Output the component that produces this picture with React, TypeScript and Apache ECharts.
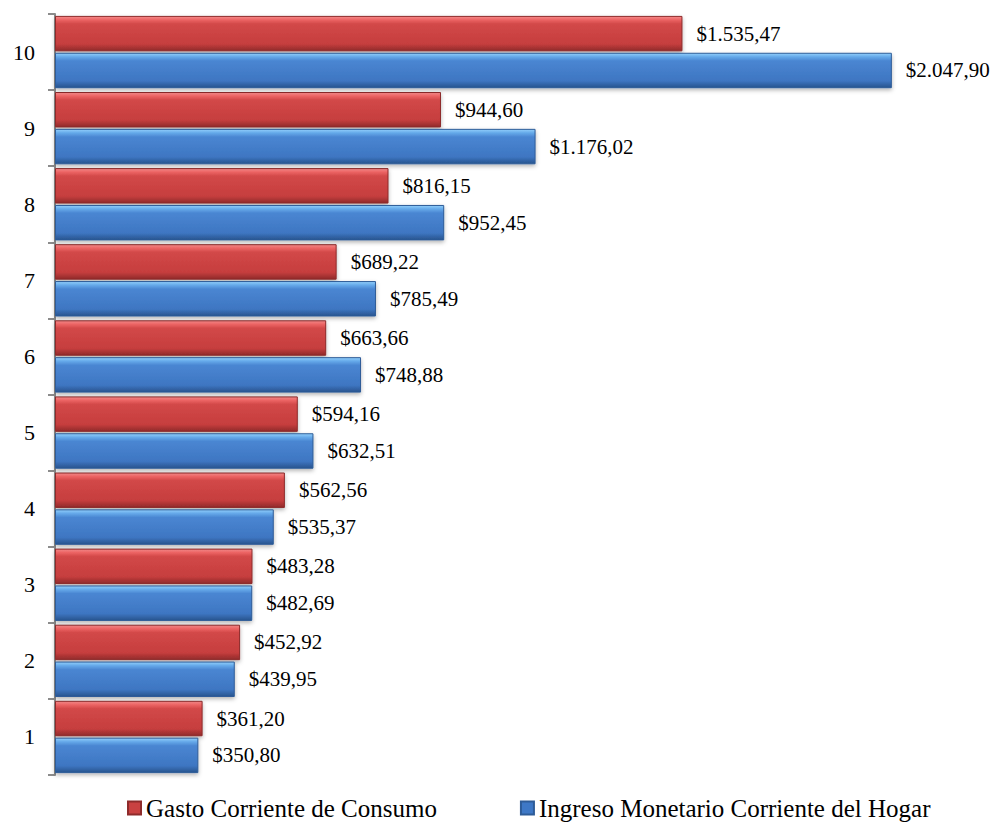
import React, { useEffect, useRef } from "react";
import * as echarts from "echarts";

const categories = ["1", "2", "3", "4", "5", "6", "7", "8", "9", "10"];
const gasto = [361.2, 452.92, 483.28, 562.56, 594.16, 663.66, 689.22, 816.15, 944.6, 1535.47];
const ingreso = [350.8, 439.95, 482.69, 535.37, 632.51, 748.88, 785.49, 952.45, 1176.02, 2047.9];
const seriesNames = ["Gasto Corriente de Consumo", "Ingreso Monetario Corriente del Hogar"];

const FONT = "Liberation Serif, serif";

function fmt(v: number): string {
  const [i, d] = v.toFixed(2).split(".");
  const withSep = i.replace(/\B(?=(\d{3})+(?!\d))/g, ".");
  return "$" + withSep + "," + d;
}

const redGrad = () =>
  new echarts.graphic.LinearGradient(0, 0, 0, 1, [
    { offset: 0, color: "#F58A8A" },
    { offset: 0.1, color: "#EC6464" },
    { offset: 0.22, color: "#D24848" },
    { offset: 0.8, color: "#C63E3E" },
    { offset: 1, color: "#902A2A" },
  ]);
const blueGrad = () =>
  new echarts.graphic.LinearGradient(0, 0, 0, 1, [
    { offset: 0, color: "#92CFFB" },
    { offset: 0.1, color: "#66AAEA" },
    { offset: 0.22, color: "#4A86D2" },
    { offset: 0.8, color: "#3E76C2" },
    { offset: 1, color: "#28548E" },
  ]);

export default function App() {
  const ref = useRef<HTMLDivElement>(null);
  useEffect(() => {
    if (!ref.current) return;
    const chart = echarts.init(ref.current, undefined, { renderer: "svg" });
    const labelCommon = {
      show: true,
      position: "right" as const,
      distance: 14,
      fontFamily: FONT,
      fontSize: 21,
      color: "#000",
      formatter: (p: any) => fmt(p.value),
    };
    chart.setOption({
      animation: false,
      backgroundColor: "#fff",
      grid: { left: 55, top: 14, width: 899, height: 761 },
      xAxis: {
        type: "value",
        min: 0,
        max: 2200,
        show: false,
      },
      yAxis: {
        type: "category",
        data: categories,
        axisLine: { show: true, lineStyle: { color: "#8C8C8C", width: 2 } },
        axisTick: { show: true, length: 7, lineStyle: { color: "#8C8C8C", width: 2 } },
        axisLabel: { fontFamily: FONT, fontSize: 22, color: "#000", margin: 20 },
        splitLine: { show: false },
      },
      legend: {
        left: 127,
        top: 795,
        padding: 0,
        itemWidth: 13,
        itemHeight: 13,
        itemGap: 83,
        icon: "rect",
        textStyle: { fontFamily: FONT, fontSize: 25, lineHeight: 26, color: "#000", padding: [0, 0, 0, 0] },
        data: [
          { name: seriesNames[0], itemStyle: { color: "#C94141" } },
          { name: seriesNames[1], itemStyle: { color: "#3E78C6" } },
        ],
      },
      series: [
        {
          name: seriesNames[0],
          type: "bar",
          data: gasto,
          barGap: "4%",
          barCategoryGap: "5%",
          itemStyle: {
            color: redGrad(),
            borderColor: "#8E2B2B",
            borderWidth: 1,
            shadowColor: "rgba(0,0,0,0.3)",
            shadowBlur: 4,
            shadowOffsetY: 2,
          },
          label: labelCommon,
        },
        {
          name: seriesNames[1],
          type: "bar",
          data: ingreso,
          barGap: "4%",
          barCategoryGap: "5%",
          itemStyle: {
            color: blueGrad(),
            borderColor: "#2E5C98",
            borderWidth: 1,
            shadowColor: "rgba(0,0,0,0.3)",
            shadowBlur: 4,
            shadowOffsetY: 2,
          },
          label: labelCommon,
        },
      ],
    });
    return () => chart.dispose();
  }, []);
  return (
    <div
      ref={ref}
      style={{ position: "fixed", left: 0, top: 0, width: 1001, height: 825 }}
    />
  );
}
